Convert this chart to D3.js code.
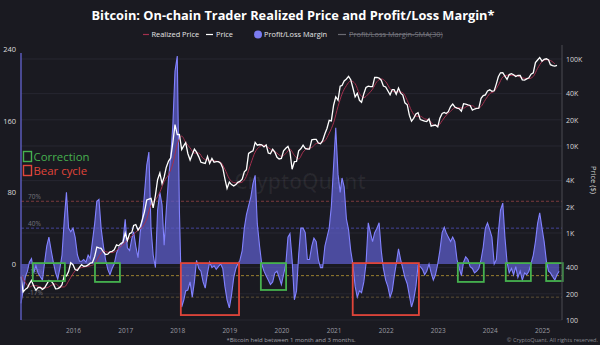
<!DOCTYPE html>
<html><head><meta charset="utf-8">
<script src="https://cdn.jsdelivr.net/npm/d3@7"></script>
<style>
html,body{margin:0;padding:0;background:#1a1a21;}
svg{display:block;font-family:"Open Sans",sans-serif;}
</style></head><body>
<svg id="c" width="600" height="345"></svg>
<script>
// Semi-monthly samples (1st and 16th of each month) starting Jan 2015
const seriesStart = [2015, 0];
const priceUSD = [
  315,210,225,235,260,285,245,220,235,237,225,235,258,285,280,260,228,230,237,255,325,320,360,455,
  432,380,372,405,432,415,417,430,450,456,537,690,675,665,605,567,572,607,615,640,730,712,755,780,
  1000,820,985,1010,1220,1250,1080,1180,1420,1750,2400,2450,2500,1950,2730,4100,4900,3700,4400,5700,6700,7300,10900,17600,
  13500,13600,9100,10100,10900,8200,6900,8000,9200,8500,7500,6500,6400,6300,7600,6300,7200,6500,6600,6600,6350,5600,4200,3250,
  3850,3600,3480,3600,3820,3920,4150,5050,5350,8200,8550,8800,11000,10200,10400,10300,9750,10300,8300,8150,9200,8500,7400,7100,
  7200,8800,9400,9900,8600,5400,6600,6640,8800,9300,10200,9400,9230,9200,11800,11900,11900,10800,10600,11500,13800,16000,19700,19400,
  29400,36800,33500,48700,49600,56000,59000,63100,57800,46700,36700,40200,33500,31800,39900,47000,48800,48100,48200,61500,61300,60400,57000,48900,
  47700,43100,38700,44500,44400,39300,46300,40500,38500,31300,29800,22600,19300,20800,23300,24100,20100,19700,19300,19100,20500,16900,17200,17400,
  16600,20900,23700,24300,23600,24800,28400,30300,28100,27200,26800,25100,30600,30300,29700,29200,25900,26600,27000,27200,35400,37900,38700,43000,
  44200,42500,43100,51800,62400,69400,69700,63400,58200,66200,67800,66000,62900,64800,64600,57600,57300,59100,60800,67000,69500,91000,97300,104000,
  94400,99000,100600,97600,86000,84000,83000,84500
];
const plMargin = [
  -44,-30,-14,-8,2,6,-10,-2,-10,-14,-18,2,20,30,15,2,-10,-17,-5,10,50,80,40,36,
  40,30,10,3,3,5,2,10,6,25,45,70,72,40,20,5,-6,-12,-5,0,12,18,20,25,
  50,18,15,28,36,20,7,35,50,78,110,125,40,10,-4,60,80,66,21,60,96,120,155,215,
  232,60,-48,-40,-30,-29,-20,-37,-20,4,-5,-8,-20,-27,-10,2,-4,-2,-6,-3,0,-5,-25,-40,
  -49,-35,-15,-5,0,4,15,40,55,65,75,90,99,45,20,0,-8,-13,-18,-23,-20,-10,-8,-15,
  -23,-12,0,30,34,5,-40,-30,10,40,40,35,5,5,20,29,25,5,-4,-4,20,30,40,64,
  110,152,100,80,96,86,50,38,15,0,-25,-37,-30,-32,-20,0,46,35,25,35,40,46,15,-5,
  -18,-25,-37,-30,-15,0,17,5,-5,-15,-22,-35,-48,-40,-25,-2,-3,-6,-12,-8,0,-10,-18,-12,
  0,15,35,41,35,30,25,30,25,5,-5,-13,2,8,5,-3,-5,-10,-8,-5,5,19,40,46,
  38,30,0,5,35,60,68,30,2,-10,-5,-12,-3,-15,-8,-18,-10,-12,-8,0,10,25,45,57,
  40,25,3,-8,-10,-14,-18,-12,-8
];
// Monthly (1st of month) trader realized price, Jan 2015 – Apr 2025
const realizedPrice = [
  330,270,240,250,245,235,235,250,260,240,240,280,
  340,390,400,410,420,440,540,620,600,595,630,700,
  780,880,960,1080,1170,1450,2100,2400,2950,3900,4700,6200,
  10500,13000,11000,9500,8300,8300,7200,6900,6800,6700,6500,5400,
  4200,3800,3750,3850,4500,6300,8500,9800,10200,9600,8800,8300,
  7600,8200,9200,7800,7100,8500,9400,9600,10700,10900,11500,14000,
  18500,28500,39500,49500,56000,52000,40000,36000,39500,45000,55000,59000,
  55000,45500,42000,42000,41000,33500,25500,22000,22000,20500,20000,17500,
  17000,19500,22500,25000,27500,27500,27200,29000,29000,27000,28500,34000,
  40000,42500,50000,62000,65000,64500,65000,62000,60000,59500,63000,78000,
  93000,98000,96000,88000
];
const marginTicks = [0, 80, 160, 240];
const priceTicks = [100,200,400,1000,2000,4000,10000,20000,40000,100000];
const priceTickLabels = ["100","200","400","1K","2K","4K","10K","20K","40K","100K"];
const refLevels = [70, 40, -13, -37];
const refLabels = ["70%", "40%", "-13%", "-17%"];
const refColors = ["#7a3a3c", "#45459a", "#9a8030", "#5e5036"];
const correctionStart = ["2015-03-25","2016-06-03","2019-08-10","2023-05-22","2024-04-22","2025-01-30"];
const correctionEnd   = ["2015-11-05","2016-11-25","2020-02-03","2023-11-20","2024-10-15","2025-05-26"];
const correctionLow   = [-19,-20,-29,-20,-19,-19];
const bearStart = ["2018-01-26","2021-05-15"];
const bearEnd   = ["2019-03-10","2022-08-22"];
const bearLow   = [-57,-57];
const boxTop = 1;

const semiDate = i => new Date(Date.UTC(seriesStart[0], seriesStart[1] + Math.floor(i/2), i%2 ? 16 : 1));
const monthDate = i => new Date(Date.UTC(seriesStart[0], seriesStart[1] + i, 1));
const priceData = priceUSD.map((v,i)=>({date:semiDate(i), v}));
const plData = plMargin.map((v,i)=>({date:semiDate(i), v}));
const realData = realizedPrice.map((v,i)=>({date:monthDate(i), v}));

const svg = d3.select("#c");
const W = 600, H = 345;
const L = 21, R = 562, T = 45, B = 320;

const x = d3.scaleUtc().domain([new Date(Date.UTC(2016,0,1)), new Date(Date.UTC(2025,0,1))]).range([73, 542]);
const yM = d3.scaleLinear().domain([-62.5, 244.4]).range([B, T]);
const yP = d3.scaleLog().domain([100, 144800]).range([B, T]);

svg.append("rect").attr("width", W).attr("height", H).attr("fill", "#1a1a21");

// gridlines from price axis
svg.append("g").selectAll("line").data(priceTicks).join("line")
  .attr("x1", L).attr("x2", R).attr("y1", d=>yP(d)).attr("y2", d=>yP(d))
  .attr("stroke", "#272731").attr("stroke-width", 1);

// reference dashed levels
const ref = svg.append("g");
ref.selectAll("line").data(refLevels).join("line")
  .attr("x1", L).attr("x2", R).attr("y1", d=>yM(d)).attr("y2", d=>yM(d))
  .attr("stroke", (d,i)=>refColors[i]).attr("stroke-width", 1).attr("stroke-dasharray", "3,2");
ref.selectAll("text").data(refLevels).join("text")
  .attr("x", 28).attr("y", d=>yM(d)-2).attr("fill", "#74747e").attr("font-size", 6.5)
  .text((d,i)=>refLabels[i]);

// watermark
svg.append("text").attr("x", 300).attr("y", 189).attr("text-anchor", "middle")
  .attr("font-size", 21).attr("font-weight", 600).attr("fill", "rgba(255,255,255,0.06)").text("CryptoQuant");

// profit/loss area
svg.append("path").datum(plData)
  .attr("d", d3.area().x(d=>x(d.date)).y0(yM(0)).y1(d=>yM(d.v)))
  .attr("fill", "#5c5cc8").attr("fill-opacity", 0.75);
svg.append("path").datum(plData)
  .attr("d", d3.line().x(d=>x(d.date)).y(d=>yM(d.v)))
  .attr("fill", "none").attr("stroke", "#8282ff").attr("stroke-width", 1.1);

// realized price
svg.append("path").datum(realData)
  .attr("d", d3.line().x(d=>x(d.date)).y(d=>yP(d.v)).curve(d3.curveMonotoneX))
  .attr("fill", "none").attr("stroke", "#a3304e").attr("stroke-width", 1);
// price
svg.append("path").datum(priceData)
  .attr("d", d3.line().x(d=>x(d.date)).y(d=>yP(d.v)))
  .attr("fill", "none").attr("stroke", "#ffffff").attr("stroke-width", 1.3);

// annotation boxes
const parse = d3.utcParse("%Y-%m-%d");
const boxes = svg.append("g").attr("fill", "none").attr("stroke-width", 1.8);
boxes.selectAll("rect.c").data(correctionStart).join("rect").attr("class","c")
  .attr("x", d=>x(parse(d))).attr("y", yM(boxTop))
  .attr("width", (d,i)=>x(parse(correctionEnd[i]))-x(parse(d)))
  .attr("height", (d,i)=>yM(correctionLow[i])-yM(boxTop))
  .attr("stroke", "#46b14f");
boxes.selectAll("rect.b").data(bearStart).join("rect").attr("class","b")
  .attr("x", d=>x(parse(d))).attr("y", yM(boxTop))
  .attr("width", (d,i)=>x(parse(bearEnd[i]))-x(parse(d)))
  .attr("height", (d,i)=>yM(bearLow[i])-yM(boxTop))
  .attr("stroke", "#e0453a");

// left axis
svg.append("line").attr("x1", L).attr("x2", L).attr("y1", 53).attr("y2", B)
  .attr("stroke", "#5a5ab8").attr("stroke-width", 1.5);
const la = svg.append("g").attr("transform", `translate(16,0)`)
  .call(d3.axisLeft(yM).tickValues(marginTicks).tickSize(0).tickPadding(0));
la.select(".domain").remove();
la.selectAll("text").attr("fill", "#dddddd").attr("font-size", 7.5).attr("font-family", "Open Sans");

// right axis
svg.append("line").attr("x1", R).attr("x2", R).attr("y1", T).attr("y2", B)
  .attr("stroke", "#4a4a52").attr("stroke-width", 1);
const ra = svg.append("g").attr("transform", `translate(566,0)`)
  .call(d3.axisRight(yP).tickValues(priceTicks).tickSize(0).tickPadding(0)
    .tickFormat((d,i)=>priceTickLabels[i]));
ra.select(".domain").remove();
ra.selectAll("text").attr("fill", "#d8d8d8").attr("font-size", 7).attr("font-family", "Open Sans");
svg.append("text").attr("transform", "translate(591,180) rotate(90)")
  .attr("text-anchor", "middle").attr("fill", "#d8d8d8").attr("font-size", 7.5).text("Price ($)");

// bottom axis
const ba = svg.append("g").attr("transform", `translate(0,${B})`)
  .call(d3.axisBottom(x).ticks(d3.utcYear.every(1)).tickSize(0).tickPadding(8).tickFormat(d3.utcFormat("%Y")));
ba.select(".domain").remove();
ba.selectAll("text").attr("fill", "#9a9aa2").attr("font-size", 6.5).attr("font-family", "Open Sans");

// title
svg.append("text").attr("x", 293).attr("y", 20).attr("text-anchor", "middle")
  .attr("fill", "#ffffff").attr("font-size", 12.8).attr("font-weight", 700).text("Bitcoin: On-chain Trader Realized Price and Profit/Loss Margin*");

// legend
const lg = svg.append("g").attr("font-size", 7.4).attr("fill", "#e6e6e6");
const ly = 34.5;
lg.append("line").attr("x1",143).attr("x2",149).attr("y1",ly).attr("y2",ly).attr("stroke","#a3304e").attr("stroke-width",1.2);
lg.append("text").attr("x",151.5).attr("y",ly+2.5).text("Realized Price");
lg.append("line").attr("x1",206).attr("x2",213).attr("y1",ly).attr("y2",ly).attr("stroke","#ffffff").attr("stroke-width",1.2);
lg.append("text").attr("x",216).attr("y",ly+2.5).text("Price");
lg.append("circle").attr("cx",258).attr("cy",ly).attr("r",4).attr("fill","#7b7bf0");
lg.append("text").attr("x",264).attr("y",ly+2.5).text("Profit/Loss Margin");
lg.append("line").attr("x1",338).attr("x2",346).attr("y1",ly).attr("y2",ly).attr("stroke","#6a6a72").attr("stroke-width",1.2);
const smaT = lg.append("text").attr("x",349).attr("y",ly+2.5).attr("fill","#75757d").text("Profit/Loss Margin-SMA(30)");
const bb = smaT.node().getBBox();
lg.append("line").attr("x1",bb.x).attr("x2",bb.x+bb.width).attr("y1",ly).attr("y2",ly).attr("stroke","#75757d").attr("stroke-width",0.8);

// box legend
svg.append("rect").attr("x",23.5).attr("y",151.5).attr("width",8).attr("height",10).attr("fill","none").attr("stroke","#46b14f").attr("stroke-width",1.4);
svg.append("text").attr("x",33.5).attr("y",161).attr("font-size",11.4).attr("fill","#46b14f").text("Correction");
svg.append("rect").attr("x",23.5).attr("y",165.5).attr("width",8).attr("height",10).attr("fill","none").attr("stroke","#e0453a").attr("stroke-width",1.4);
svg.append("text").attr("x",33.5).attr("y",175).attr("font-size",11.4).attr("fill","#e0453a").text("Bear cycle");

// footer
svg.append("text").attr("x",291).attr("y",342).attr("text-anchor","middle").attr("font-size",6).attr("fill","#a0a0a8")
  .text("*Bitcoin held between 1 month and 3 months.");
svg.append("text").attr("x",598).attr("y",342).attr("text-anchor","end").attr("font-size",5.6).attr("fill","#8a8a92")
  .text("© CryptoQuant. All rights reserved.");
</script>
</body></html>
